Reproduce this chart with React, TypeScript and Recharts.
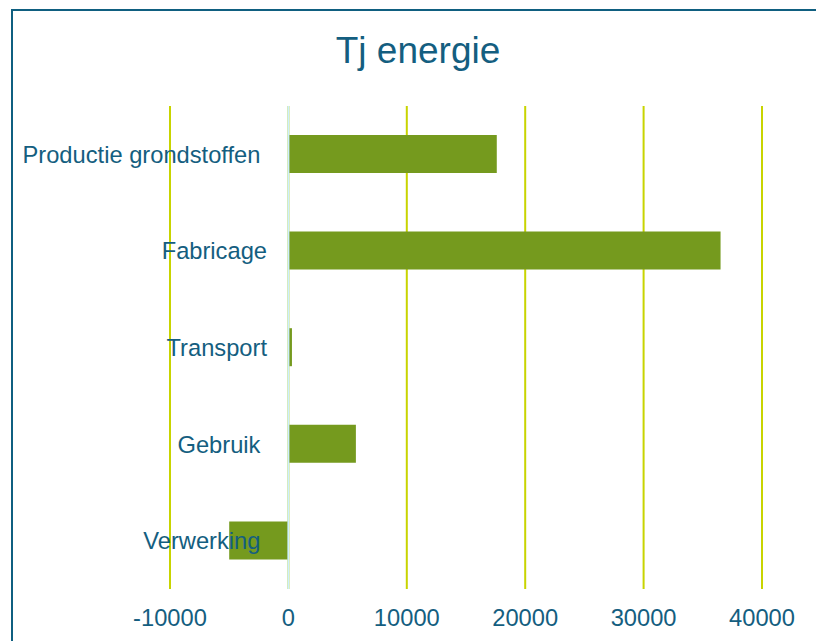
import { Bar, BarChart, CartesianGrid, ReferenceLine, XAxis, YAxis } from 'recharts';

// some source labels carry a trailing space, which shifts them left a little
const categories = ['Productie grondstoffen ', 'Fabricage', 'Transport', 'Gebruik ', 'Verwerking '];
const energy = [17600, 36500, 300, 5700, -5000];
const xTicks = [-10000, 0, 10000, 20000, 30000, 40000];

const data = categories.map((name, i) => ({ name, value: energy[i] }));

const TEXT = '#145e80';
const FONT = '"Liberation Sans", Arial, sans-serif';

function CategoryTick(props: any) {
  const { y, payload } = props;
  return (
    <text
      x={267}
      y={y}
      dy='0.36em'
      textAnchor='end'
      fill={TEXT}
      fontSize={23.7}
      fontFamily={FONT}
      style={{ whiteSpace: 'pre' }}
    >
      {payload.value}
    </text>
  );
}

function ValueTick(props: any) {
  const { x, payload } = props;
  return (
    <text x={x} y={626} textAnchor='middle' fill={TEXT} fontSize={23.7} fontFamily={FONT}>
      {payload.value}
    </text>
  );
}

export default function App() {
  return (
    <div style={{ position: 'absolute', left: 0, top: 0, width: 816, height: 641, overflow: 'hidden', background: '#fff' }}>
      <div
        style={{
          position: 'absolute',
          left: 11,
          top: 9,
          width: 900,
          height: 800,
          border: '2px solid #0f5f80',
        }}
      />
      <BarChart
        width={816}
        height={641}
        data={data}
        layout='vertical'
        margin={{ top: 106, right: 54, left: 0, bottom: 0 }}
        barSize={38}
        style={{ position: 'absolute', left: 0, top: 0 }}
      >
        <text x={418} y={63} textAnchor='middle' fill={TEXT} fontSize={37} fontFamily={FONT}>
          Tj energie
        </text>
        <CartesianGrid horizontal={false} stroke='#c8d400' strokeWidth={2} />
        <XAxis
          type='number'
          domain={[-10000, 40000]}
          ticks={xTicks}
          axisLine={false}
          tickLine={false}
          height={52}
          tick={<ValueTick />}
          interval={0}
        />
        <YAxis
          type='category'
          dataKey='name'
          width={170}
          axisLine={false}
          tickLine={false}
          tick={<CategoryTick />}
          interval={0}
        />
        <ReferenceLine x={0} stroke='#cdeefd' strokeWidth={2} />
        <Bar dataKey='value' fill='#759a1e' isAnimationActive={false} />
      </BarChart>
    </div>
  );
}
